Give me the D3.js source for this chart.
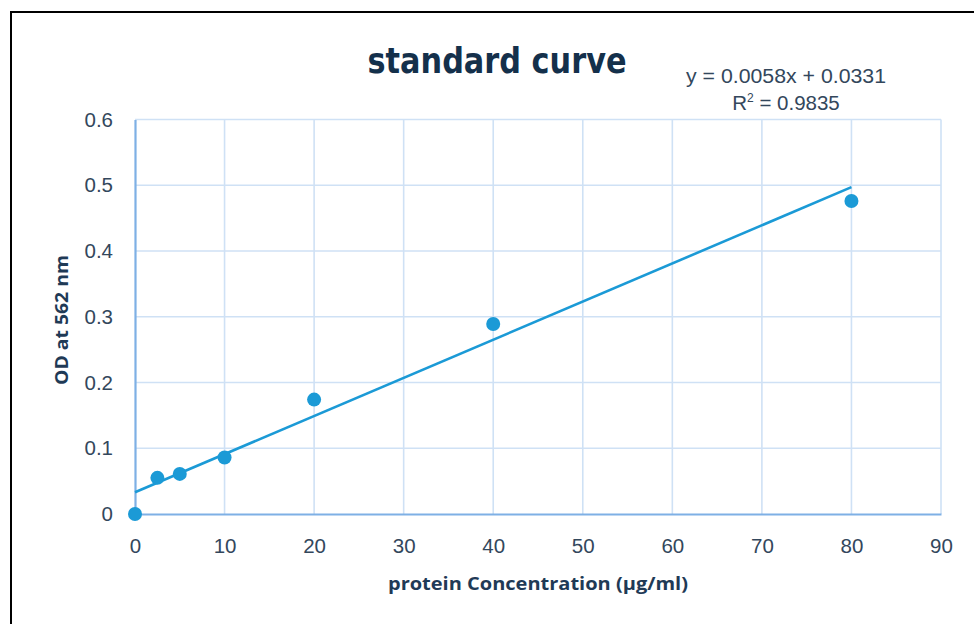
<!DOCTYPE html>
<html>
<head>
<meta charset="utf-8">
<script src="https://cdn.jsdelivr.net/npm/d3@7"></script>
<style>
  body { margin: 0; background: #fff; }
  svg { display: block; }
</style>
</head>
<body>
<div id="chart"></div>
<script>
// data
var concentrations = [0, 2.5, 5, 10, 20, 40, 80];
var odValues = [0, 0.055, 0.061, 0.086, 0.174, 0.289, 0.476];
var xTicks = [0, 10, 20, 30, 40, 50, 60, 70, 80, 90];
var yTicks = [0, 0.1, 0.2, 0.3, 0.4, 0.5, 0.6];
var slope = 0.0058, intercept = 0.0331;
var trendRange = [0, 80];

var width = 974, height = 624;
var textColor = "#1f3a56", dotColor = "#1b9ad6";

var svg = d3.select("#chart").append("svg")
    .attr("width", width).attr("height", height);

// frame around the chart
svg.append("rect")
    .attr("x", 11).attr("y", 12)
    .attr("width", 1000).attr("height", 700)
    .attr("fill", "#fff").attr("stroke", "#000").attr("stroke-width", 2);

var x = d3.scaleLinear().domain([0, 90]).range([135, 941]);
var y = d3.scaleLinear().domain([0, 0.6]).range([514, 119.5]);

// grid
svg.append("g").selectAll("line").data(xTicks.slice(1)).enter().append("line")
    .attr("x1", function(d) { return x(d); }).attr("x2", function(d) { return x(d); })
    .attr("y1", y(0)).attr("y2", y(0.6))
    .attr("stroke", "#cfe1f5").attr("stroke-width", 1.6);
svg.append("g").selectAll("line").data(yTicks.slice(1)).enter().append("line")
    .attr("x1", x(0)).attr("x2", x(90))
    .attr("y1", function(d) { return y(d); }).attr("y2", function(d) { return y(d); })
    .attr("stroke", "#cfe1f5").attr("stroke-width", 1.6);

// axes
var xAxis = svg.append("g").attr("transform", "translate(0," + y(0) + ")")
    .call(d3.axisBottom(x).tickValues(xTicks).tickSize(0).tickPadding(24).tickFormat(d3.format("d")));
var yAxis = svg.append("g").attr("transform", "translate(" + x(0) + ",0)")
    .call(d3.axisLeft(y).tickValues(yTicks).tickSize(0).tickPadding(22)
        .tickFormat(function(d) { return d === 0 ? "0" : d3.format(".1f")(d); }));
[xAxis, yAxis].forEach(function(g) {
    g.select(".domain").attr("stroke", "#7eb0e5").attr("stroke-width", 2.2);
    g.selectAll("text").attr("fill", "#33475c")
        .style("font-family", "'Liberation Sans', Arial, sans-serif").style("font-size", "20.5px");
});

// trend line
var line = d3.line()
    .x(function(d) { return x(d); })
    .y(function(d) { return y(slope * d + intercept); });
svg.append("path").datum(trendRange)
    .attr("d", line).attr("fill", "none")
    .attr("stroke", dotColor).attr("stroke-width", 2.6);

// points
svg.append("g").selectAll("circle").data(concentrations).enter().append("circle")
    .attr("cx", function(d) { return x(d); })
    .attr("cy", function(d, i) { return y(odValues[i]); })
    .attr("r", 7).attr("fill", dotColor);

// title
svg.append("text").attr("x", 497).attr("y", 73)
    .attr("text-anchor", "middle").attr("fill", "#14304b")
    .attr("textLength", 259).attr("lengthAdjust", "spacingAndGlyphs")
    .style("font-family", "'Liberation Sans Narrow', 'DejaVu Sans Condensed', sans-serif")
    .style("font-weight", "bold").style("font-size", "36px")
    .text("standard curve");

// equation
svg.append("text").attr("x", 786).attr("y", 83)
    .attr("text-anchor", "middle").attr("fill", "#33475c")
    .attr("textLength", 200).attr("lengthAdjust", "spacingAndGlyphs")
    .style("font-family", "'Liberation Sans', Arial, sans-serif").style("font-size", "20.5px")
    .text("y = 0.0058x + 0.0331");
var r2 = svg.append("text").attr("x", 786).attr("y", 110).attr("text-anchor", "middle").attr("fill", "#33475c")
    .style("font-family", "'Liberation Sans', Arial, sans-serif").style("font-size", "20.5px");
r2.append("tspan").text("R");
r2.append("tspan").attr("dy", -8).style("font-size", "12px").text("2");
r2.append("tspan").attr("dy", 8).text(" = 0.9835");

// axis titles
svg.append("text").attr("x", 538).attr("y", 590)
    .attr("text-anchor", "middle").attr("fill", textColor)
    .attr("textLength", 300).attr("lengthAdjust", "spacingAndGlyphs")
    .style("font-family", "'Open Sans', sans-serif").style("font-weight", "bold").style("font-size", "18.5px")
    .text("protein Concentration (µg/ml)");
svg.append("text").attr("transform", "translate(68,320) rotate(-90)")
    .attr("text-anchor", "middle").attr("fill", textColor)
    .attr("textLength", 130).attr("lengthAdjust", "spacingAndGlyphs")
    .style("font-family", "'Open Sans', sans-serif").style("font-weight", "bold").style("font-size", "18.5px")
    .text("OD at 562 nm");
</script>
</body>
</html>
